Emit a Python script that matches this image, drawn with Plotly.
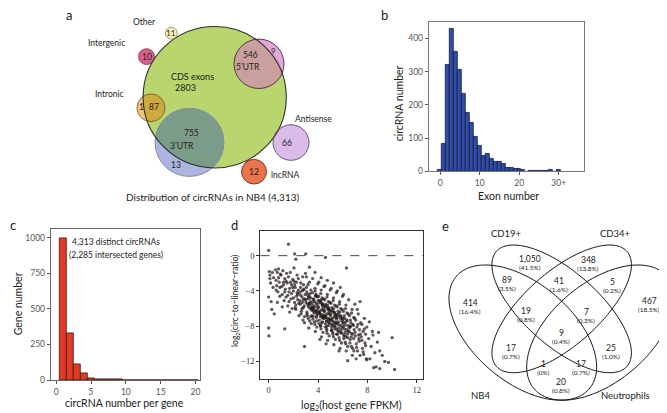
import numpy as np
import plotly.graph_objects as go

W, H = 667, 413
FONT = "Lato"
SERIF = "Liberation Serif"

# ---------------- data ----------------
# panel a (circRNA categories in NB4)
cds_exons = 2803
utr5 = [546, 9]          # inside CDS, outside CDS
utr3 = [755, 13]
intronic = [87, 1]
intergenic = 10
other = 11
antisense = 66
lncrna = 12
a_title = "Distribution of circRNAs in NB4 (4,313)"

# panel b (exon number histogram)
exon_number = list(range(0, 31))
exon_counts = [5, 82, 320, 429, 360, 306, 233, 177, 146, 105, 76, 48, 54, 37, 30,
               30, 24, 10, 10, 9, 9, 5, 0, 3, 3, 2, 2, 1, 4, 0, 4]
exon_tickvals = [0, 10, 20, 30]
exon_ticktext = ["0", "10", "20", "30+"]

# panel c (circRNAs per gene)
circ_per_gene = list(range(1, 21))
gene_counts = [998, 328, 109, 44, 15, 4, 3, 2, 2, 0, 0, 0, 0, 0, 1, 0, 0, 0, 0, 0]
c_note = ["4,313 distinct circRNAs", "(2,285 intersected genes)"]

# panel d (log2 host gene FPKM vs log2 circ-to-linear ratio)
host_fpkm_log2 = [
    0.0, 0.05, 0.1, 0.0, 0.15, 0.2, 0.3, 0.0, 0.1, 0.25, 0.4, 0.35, 0.45, 0.02,
    0.55, 0.6, 0.65, 0.7, 0.75, 0.8, 0.85, 0.9, 0.95, 0.6, 0.7, 0.8, 0.9,
    1.0, 1.05, 1.1, 1.15, 1.2, 1.25, 1.3, 1.35, 1.4, 1.45, 1.1, 1.2, 1.3, 1.4, 1.3,
    1.5, 1.55, 1.6, 1.65, 1.7, 1.75, 1.8, 1.85, 1.9, 1.95, 1.55, 1.65, 1.75, 1.85, 1.95, 1.6, 1.7,
    2.0, 2.05, 2.1, 2.15, 2.2, 2.25, 2.3, 2.35, 2.4, 2.45, 2.0, 2.1, 2.2, 2.3, 2.4, 2.05, 2.15,
    2.25, 2.35, 2.45, 2.1, 2.2,
    2.5, 2.55, 2.6, 2.65, 2.7, 2.75, 2.8, 2.85, 2.9, 2.95, 2.52, 2.58, 2.62, 2.68, 2.72, 2.78,
    2.82, 2.88, 2.92, 2.98, 2.6, 2.7, 2.8, 2.9, 2.9,
    3.0, 3.05, 3.1, 3.15, 3.2, 3.25, 3.3, 3.35, 3.4, 3.45, 3.02, 3.08, 3.12, 3.18, 3.22, 3.28,
    3.32, 3.38, 3.42, 3.48, 3.05, 3.15, 3.25, 3.35, 3.45, 3.1, 3.2, 3.3, 3.4, 3.0, 3.3,
    3.5, 3.55, 3.6, 3.65, 3.7, 3.75, 3.8, 3.85, 3.9, 3.95, 3.52, 3.58, 3.62, 3.68, 3.72, 3.78,
    3.82, 3.88, 3.92, 3.98, 3.54, 3.64, 3.74, 3.84, 3.94, 3.56, 3.66, 3.76, 3.86, 3.96, 3.6,
    3.7, 3.8, 3.9, 3.75,
    4.0, 4.05, 4.1, 4.15, 4.2, 4.25, 4.3, 4.35, 4.4, 4.45, 4.02, 4.08, 4.12, 4.18, 4.22, 4.28,
    4.32, 4.38, 4.42, 4.48, 4.04, 4.14, 4.24, 4.34, 4.44, 4.06, 4.16, 4.26, 4.36, 4.46, 4.1,
    4.2, 4.3, 4.4, 4.25, 4.15, 4.35,
    4.5, 4.55, 4.6, 4.65, 4.7, 4.75, 4.8, 4.85, 4.9, 4.95, 4.52, 4.58, 4.62, 4.68, 4.72, 4.78,
    4.82, 4.88, 4.92, 4.98, 4.54, 4.64, 4.74, 4.84, 4.94, 4.56, 4.66, 4.76, 4.86, 4.96, 4.6,
    4.7, 4.8, 4.9, 4.75, 4.65, 4.85, 4.6,
    5.0, 5.05, 5.1, 5.15, 5.2, 5.25, 5.3, 5.35, 5.4, 5.45, 5.02, 5.08, 5.12, 5.18, 5.22, 5.28,
    5.32, 5.38, 5.42, 5.48, 5.04, 5.14, 5.24, 5.34, 5.44, 5.06, 5.16, 5.26, 5.36, 5.46, 5.1,
    5.2, 5.3, 5.4, 5.25,
    5.5, 5.55, 5.6, 5.65, 5.7, 5.75, 5.8, 5.85, 5.9, 5.95, 5.52, 5.58, 5.62, 5.68, 5.72, 5.78,
    5.82, 5.88, 5.92, 5.98, 5.54, 5.64, 5.74, 5.84, 5.94, 5.56, 5.66, 5.76, 5.86, 5.96, 5.7, 5.8,
    6.0, 6.05, 6.1, 6.15, 6.2, 6.25, 6.3, 6.35, 6.4, 6.45, 6.02, 6.08, 6.12, 6.18, 6.22, 6.28,
    6.32, 6.38, 6.42, 6.48, 6.04, 6.14, 6.24, 6.34, 6.44, 6.06, 6.16, 6.26, 6.3, 6.4,
    6.5, 6.55, 6.6, 6.65, 6.7, 6.75, 6.8, 6.85, 6.9, 6.95, 6.52, 6.58, 6.62, 6.68, 6.72, 6.78,
    6.82, 6.88, 6.92, 6.98, 6.6, 6.7, 6.8, 6.9,
    7.0, 7.05, 7.1, 7.15, 7.2, 7.25, 7.3, 7.35, 7.4, 7.45, 7.02, 7.12, 7.22, 7.32, 7.42, 7.08,
    7.18, 7.28, 7.4,
    7.5, 7.55, 7.6, 7.65, 7.7, 7.75, 7.8, 7.85, 7.9, 7.95, 7.55, 7.65, 7.75, 7.85, 7.95,
    8.1, 8.2, 8.3, 8.4, 8.5, 8.6, 8.7, 8.8, 8.9, 9.0, 9.0, 8.15, 9.2, 9.4, 8.45,
    10.0, 10.2, 9.7,
    # additional points in the dense core
    3.3, 3.6, 3.9, 4.1, 4.3, 4.5, 4.7, 4.9, 5.1, 5.3, 5.5, 5.7, 5.9, 6.1, 4.0, 4.4, 4.8, 5.2,
    5.6, 6.0, 3.8, 4.2, 4.6, 5.0, 5.4, 5.8, 6.2, 6.6, 3.5, 4.3, 4.7, 5.1, 5.5, 6.4, 2.8, 3.2,
]
circ_ratio_log2 = [
    0.6, -1.8, -2.6, -4.7, -3.1, -5.2, -1.9, -8.2, -2.2, -6.1, -2.5, -3.6, -6.6, -9.1,
    -1.6, -2.8, -3.4, -1.9, -4.1, -2.5, -3.0, -4.6, -2.1, -3.9, -5.3, -1.5, -3.6,
    -2.2, -3.5, -4.4, -1.7, -3.0, -5.1, -2.6, -3.8, -4.7, -2.0, -5.8, -3.3, -4.1, -2.9, -8.3,
    -3.1, -4.5, -2.4, -5.2, -3.7, -1.9, -4.9, -3.3, -6.0, -2.7, -5.7, -4.1, -3.0, -4.3, -3.6, 1.3, -6.4,
    -4.0, -2.9, -5.3, -3.6, -6.1, -4.6, -2.2, -5.0, -3.9, -6.8, -4.8, -3.3, -5.6, -4.2, -2.6, -1.4, -5.9,
    -3.0, -4.4, -5.4, 0.2, -0.4,
    -4.2, -5.5, -3.1, -6.3, -4.7, -2.4, -5.9, -3.8, -6.9, -4.4, -5.1, -3.6, -6.6, -4.0, -5.3, -7.3,
    -3.3, -5.7, -4.9, -2.0, -4.5, -6.0, -5.0, -7.6, -10.3,
    -5.0, -3.6, -6.4, -4.4, -7.1, -5.6, -3.0, -6.0, -4.8, -7.7, -5.3, -4.1, -6.8, -3.3, -5.8, -4.6,
    -7.4, -5.2, -3.9, -6.2, -2.4, -5.5, -8.2, -4.3, -5.9, -6.6, -4.9, -5.4, -6.9, 0.2, -1.3,
    -5.6, -4.2, -6.9, -5.0, -7.5, -3.7, -6.2, -5.4, -8.1, -4.7, -6.0, -7.2, -4.9, -6.5, -5.2, -8.6,
    -4.4, -6.8, -5.8, -3.2, -5.3, -6.3, -7.8, -4.5, -6.6, -2.6, -5.9, -4.0, -7.0, -5.5, -6.1,
    -5.7, -6.4, -7.4, -1.9,
    -6.0, -4.6, -7.3, -5.3, -8.0, -3.9, -6.7, -5.7, -8.7, -4.9, -6.4, -7.7, -5.1, -6.9, -4.3, -9.2,
    -5.5, -7.1, -6.2, -3.5, -5.8, -6.6, -8.3, -4.8, -7.0, -3.0, -6.3, -5.0, -7.5, -5.9, -6.5,
    -7.9, -6.1, -6.8, -2.5, -9.5, -5.4,
    -6.4, -5.0, -7.7, -5.8, -8.5, -4.4, -7.1, -6.1, -9.1, -5.3, -6.8, -8.1, -5.5, -7.4, -4.7, -9.6,
    -6.0, -7.6, -6.6, -3.9, -6.2, -7.0, -8.8, -5.2, -7.3, -3.4, -6.7, -5.6, -7.9, -6.3, -6.9,
    -8.3, -6.5, -7.2, -2.8, -10.0, -5.9, -0.2,
    -6.8, -5.4, -8.1, -6.2, -8.9, -4.8, -7.5, -6.5, -9.5, -5.7, -7.2, -8.5, -5.9, -7.8, -5.1, -10.1,
    -6.4, -8.0, -7.0, -4.2, -6.6, -7.4, -9.2, -5.6, -7.7, -3.7, -7.1, -6.0, -8.3, -6.7, -7.3,
    -8.7, -6.9, -7.6, -3.1,
    -7.2, -5.8, -8.5, -6.6, -9.3, -5.2, -7.9, -6.9, -9.9, -6.1, -7.6, -8.9, -6.3, -8.2, -5.5, -10.5,
    -6.8, -8.4, -7.4, -4.6, -7.0, -7.8, -9.6, -6.0, -8.1, -4.0, -7.5, -6.4, -8.7, -7.1, -10.8, -3.6,
    -7.7, -6.3, -9.0, -7.1, -9.8, -5.6, -8.4, -7.4, -10.3, -6.6, -8.1, -9.4, -6.8, -8.7, -6.0, -10.8,
    -7.3, -8.9, -7.9, -5.0, -7.5, -8.3, -10.0, -6.5, -8.6, -4.4, -7.9, -9.2, -1.4, -11.9,
    -8.2, -6.8, -9.5, -7.6, -10.3, -6.1, -8.9, -7.9, -10.8, -7.1, -8.6, -9.9, -7.3, -9.2, -6.5, -11.3,
    -7.8, -9.4, -8.4, -5.5, -8.0, -8.8, -10.5, -7.0,
    -8.7, -7.3, -10.0, -8.1, -10.8, -6.6, -9.4, -8.4, -11.3, -7.6, -9.1, -10.4, -7.8, -9.7, -8.9, -11.7,
    -6.1, -9.0, -5.2,
    -9.2, -7.8, -10.5, -8.6, -11.2, -7.1, -9.9, -8.9, -11.7, -8.1, -9.6, -10.9, -8.3, -10.2, -11.8,
    -9.4, -11.7, -10.3, -8.6, -12.7, -11.0, -12.6, -9.8, -8.7, -12.8, -10.8, -7.5, -11.3, -12.0, -9.0,
    -9.3, -12.9, -12.1,
    -5.4, -5.9, -6.3, -6.5, -6.9, -7.1, -7.4, -7.6, -7.8, -8.0, -8.3, -8.6, -8.8, -9.1, -5.1, -5.6,
    -6.0, -6.4, -6.8, -7.2, -4.6, -5.2, -5.7, -6.2, -6.7, -7.1, -7.6, -8.1, -6.8, -7.6, -8.0, -8.4,
    -8.9, -9.3, -3.9, -4.7,
]

# panel e (4-set Venn)
venn_sets = ["NB4", "CD19+", "CD34+", "Neutrophils"]
venn_counts = [1050, 348, 89, 41, 5, 414, 467, 19, 7, 9, 17, 25, 1, 17, 20]
venn_pcts = [41.5, 13.8, 3.5, 1.6, 0.2, 16.4, 18.5, 0.8, 0.3, 0.4, 0.7, 1.0, 0.0, 0.7, 0.8]

# ---------------- layout helpers ----------------
def dx(p0, p1):
    return [p0 / W, p1 / W]

def dy(p0, p1):
    return [1 - p1 / H, 1 - p0 / H]

fig = go.Figure()
shapes = []
ann = []

def txt(x, y, s, size=9, color="#222", family=FONT, **kw):
    ann.append(dict(x=x, y=y, xref="x", yref="y", text=s, showarrow=False,
                    font=dict(size=size, color=color, family=family), **kw))

def path_from(xs, ys):
    return "M " + " L ".join(f"{a:.2f},{b:.2f}" for a, b in zip(xs, ys)) + " Z"

def circ_pts(c, n=360):
    t = np.linspace(0, 2 * np.pi, n, endpoint=False)
    return c[0] + c[2] * np.cos(t), c[1] + c[2] * np.sin(t)

def lens(c1, c2):
    x1, y1 = circ_pts(c1)
    k1 = (x1 - c2[0]) ** 2 + (y1 - c2[1]) ** 2 <= c2[2] ** 2
    x2, y2 = circ_pts(c2)
    k2 = (x2 - c1[0]) ** 2 + (y2 - c1[1]) ** 2 <= c1[2] ** 2
    xs = np.concatenate([x1[k1], x2[k2]])
    ys = np.concatenate([y1[k1], y2[k2]])
    mx, my = xs.mean(), ys.mean()
    o = np.argsort(np.arctan2(ys - my, xs - mx))
    return path_from(xs[o], ys[o])

def circle_shape(c, fill, line="rgba(0,0,0,0)", lw=0):
    return dict(type="circle", xref="x", yref="y", x0=c[0] - c[2], x1=c[0] + c[2],
                y0=c[1] - c[2], y1=c[1] + c[2], fillcolor=fill,
                line=dict(color=line, width=lw), layer="above")

# ---------------- panel a ----------------
C_cds = (206.7, 90.3, 71.6)
C_u5 = (251.0, 56.5, 25.0)
C_u3 = (181.5, 136.0, 34.5)
C_int = (143.0, 101.0, 14.0)
C_ig = (138.5, 49.2, 8.0)
C_oth = (163.3, 25.5, 6.0)
C_as = (283.0, 136.2, 18.0)
C_lnc = (246.0, 165.7, 12.5)

shapes.append(circle_shape(C_cds, "#b9d56d"))
shapes.append(circle_shape(C_u5, "#e4a8d6"))
shapes.append(circle_shape(C_u3, "#acb5df"))
shapes.append(circle_shape(C_int, "#f6c37c"))
shapes.append(circle_shape(C_ig, "#d9628a"))
shapes.append(circle_shape(C_oth, "#f5f0b8"))
shapes.append(circle_shape(C_as, "#dbbbea"))
shapes.append(circle_shape(C_lnc, "#ea744c"))
for c1, col in [(C_u5, "#c9a09e"), (C_u3, "#7a9c89"), (C_int, "#cdaa3e")]:
    shapes.append(dict(type="path", xref="x", yref="y", path=lens(C_cds, c1),
                       fillcolor=col, line=dict(width=0), layer="above"))
for c, lc, lw in [(C_u3, "#8c8aa0", 1), (C_u5, "#553a4a", 1), (C_int, "#6a5530", 0.8),
                  (C_cds, "#2e2e2e", 1.1), (C_ig, "#7a3550", 0.8), (C_oth, "#8a8460", 0.8),
                  (C_as, "#5a4a66", 0.9), (C_lnc, "#6a3020", 0.9)]:
    shapes.append(circle_shape(c, "rgba(0,0,0,0)", lc, lw))

txt(61, 7.5, "a", size=13)
txt(136, 14.3, "Other", size=8.5)
txt(98.3, 35.7, "Intergenic", size=8.5)
txt(101.7, 87.3, "Intronic", size=8.5)
txt(305, 112.7, "Antisense", size=8.5)
txt(277.7, 169.3, "lncRNA", size=8.5)
txt(163.3, 25.5, str(other), size=8)
txt(138.5, 49.3, str(intergenic), size=8.5)
txt(184, 69, "CDS exons", size=9)
txt(177.5, 80.5, str(cds_exons), size=9)
txt(242.7, 47.3, str(utr5[0]), size=8.5)
txt(239.7, 60.2, "5\u2019UTR", size=8.5)
txt(265.7, 43.3, str(utr5[1]), size=8)
txt(133, 100.7, str(intronic[1]), size=8.5)
txt(145.5, 100.7, str(intronic[0]), size=8.5)
txt(183, 126.7, str(utr3[0]), size=8.5)
txt(173.5, 140, "3\u2019UTR", size=8.5)
txt(168.3, 159, str(utr3[1]), size=8.5)
txt(279.3, 136.7, str(antisense), size=8.5)
txt(245.8, 166, str(lncrna), size=8.5)
txt(204, 191, a_title, size=10)

# ---------------- panel b ----------------
fig.add_trace(go.Bar(x=exon_number, y=exon_counts, width=1, xaxis="x2", yaxis="y2",
                     marker=dict(color="#2f4ea8", line=dict(color="#16163a", width=0.8))))
txt(376.7, 6.7, "b", size=13)
txt(390.5, 97, "circRNA number", size=10.5, textangle=-90)
txt(500.7, 190.7, "Exon number", size=10.5)

# ---------------- panel c ----------------
fig.add_trace(go.Bar(x=circ_per_gene, y=gene_counts, width=1, xaxis="x3", yaxis="y3",
                     marker=dict(color="#e23a22", line=dict(color="#3a1a12", width=0.8))))
txt(5, 220, "c", size=13)
txt(108, 236.7, c_note[0], size=8.5)
txt(108, 250, c_note[1], size=8.5)
txt(10, 300, "Gene number", size=10.5, textangle=-90)
txt(116.7, 400, "circRNA number per gene", size=10.5)

# ---------------- panel d ----------------
fig.add_trace(go.Scatter(x=host_fpkm_log2, y=circ_ratio_log2, mode="markers", xaxis="x4",
                         yaxis="y4", marker=dict(size=3.3, color="rgba(35,25,25,0.72)",
                                                 line=dict(width=0))))
shapes.append(dict(type="line", xref="x4 domain", yref="y4", x0=0, x1=1, y0=0, y1=0,
                   line=dict(color="#444", width=1, dash="dash")))
txt(226, 220, "d", size=13)
txt(227.5, 297, "log<sub>2</sub>(circ\u2212to\u2212linear\u2212ratio)", size=8.5, textangle=-90)
txt(343.3, 403.3, "log<sub>2</sub>(host gene FPKM)", size=10.5)

# ---------------- panel e ----------------
def to_px(u, v):
    return 441 + (u - 0.065) * 259, 240 + (0.839 - v) * 240

ell = [(0.35, 0.47, 0.35, 0.20, 135), (0.50, 0.57, 0.35, 0.15, 135),
       (0.50, 0.57, 0.35, 0.15, 45), (0.65, 0.47, 0.35, 0.20, 45)]
tt = np.linspace(0, 2 * np.pi, 200, endpoint=False)
for cx, cy, a, b, th in ell:
    r = np.radians(th)
    u = cx + a * np.cos(tt) * np.cos(r) - b * np.sin(tt) * np.sin(r)
    v = cy + a * np.cos(tt) * np.sin(r) + b * np.sin(tt) * np.cos(r)
    px, py = to_px(u, v)
    shapes.append(dict(type="path", xref="x", yref="y", path=path_from(px, py),
                       fillcolor="rgba(0,0,0,0)", line=dict(color="#111", width=1), layer="above"))

venn_pos = [(522, 254), (580, 255), (499, 275), (551, 276), (604, 277), (462, 299), (641, 297),
            (518, 307), (578, 308), (553, 329), (503, 344), (603, 344), (535, 360), (573, 360),
            (553, 379)]
for (x, y), n, p in zip(venn_pos, venn_counts, venn_pcts):
    txt(x, y, f"{n:,}", size=8.5)
    ps = "(0%)" if p == 0 else f"({p:.1f}%)"
    txt(x, y + 8.5, ps, size=6.5)

txt(437, 221, "e", size=13)
label_pos = [(472, 392), (498, 228), (607, 228), (617, 392)]
for (x, y), s in zip(label_pos, venn_sets):
    txt(x, y, s, size=9.5)

# anchor trace for the overlay (pixel) axis
fig.add_trace(go.Scatter(x=[0], y=[0], mode="markers", marker=dict(size=1, opacity=0),
                         xaxis="x", yaxis="y", hoverinfo="skip"))

ax_common = dict(showgrid=False, zeroline=False, showline=True, mirror=True, ticks="outside",
                 ticklen=3, fixedrange=True)
fig.update_layout(
    width=W, height=H, margin=dict(l=0, r=0, t=0, b=0),
    paper_bgcolor="white", plot_bgcolor="rgba(0,0,0,0)", showlegend=False,
    font=dict(family=FONT, color="#222"),
    xaxis=dict(domain=[0, 1], range=[0, W], visible=False, fixedrange=True),
    yaxis=dict(domain=[0, 1], range=[H, 0], visible=False, fixedrange=True),
    xaxis2=dict(domain=dx(420.7, 576), range=[-2.9, 36.4], anchor="y2", tickvals=exon_tickvals,
                ticktext=exon_ticktext, linecolor="#777", tickcolor="#555",
                tickfont=dict(size=8.5, color="#555"), **ax_common),
    yaxis2=dict(domain=dy(14, 165.5), range=[-0.5, 449.6], anchor="x2",
                tickvals=[0, 100, 200, 300, 400], linecolor="#777", tickcolor="#555",
                tickfont=dict(size=8.5, color="#555"), **ax_common),
    xaxis3=dict(domain=dx(42.7, 192.3), range=[-0.8, 20.7], anchor="y3",
                tickvals=[0, 5, 10, 15, 20], linecolor="#666", tickcolor="#555",
                tickfont=dict(size=8.5, color="#555"), **ax_common),
    yaxis3=dict(domain=dy(224, 377), range=[-3, 1058], anchor="x3",
                tickvals=[0, 250, 500, 750, 1000], linecolor="#666", tickcolor="#555",
                tickfont=dict(size=8.5, color="#555"), **ax_common),
    xaxis4=dict(domain=dx(252.3, 415), range=[-0.68, 12.5], anchor="y4",
                tickvals=[0, 4, 8, 12], linecolor="#333", tickcolor="#333",
                tickfont=dict(size=8.5, color="#333", family=SERIF), **ax_common),
    yaxis4=dict(domain=dy(225.7, 375.7), range=[-14, 2.8], anchor="x4",
                tickvals=[0, -4, -8, -12], linecolor="#333", tickcolor="#333",
                tickfont=dict(size=8.5, color="#333", family=SERIF), **ax_common),
    bargap=0,
    shapes=shapes,
    annotations=ann,
)

fig.write_html("out.html")
